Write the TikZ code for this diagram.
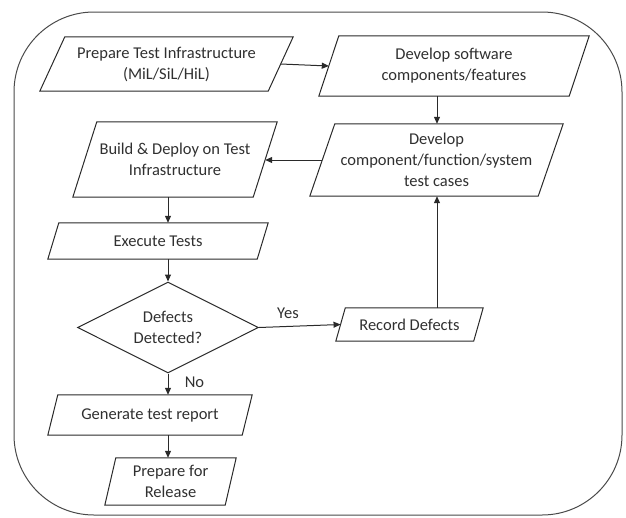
\documentclass[tikz,border=0pt]{standalone}
\usepackage{fontspec}
\setmainfont{Carlito}
\usetikzlibrary{shapes.geometric,arrows.meta,calc}
\definecolor{ink}{HTML}{2A2A2A}
\definecolor{txt}{HTML}{303030}
\newcommand\pgshape[2]{%
  \draw[shapeline] ($(#1.south west)+(-#2pt,0pt)$) -- ($(#1.north west)+(#2pt,0pt)$)
    -- ($(#1.north east)+(#2pt,0pt)$) -- ($(#1.south east)+(-#2pt,0pt)$) -- cycle;}
\begin{document}
\begin{tikzpicture}[x=1pt,y=-1pt,
  every node/.style={font=\fontsize{16.5}{21}\selectfont, text=txt},
  stepbox/.style={rectangle, inner sep=0pt, align=center},
  shapeline/.style={draw=ink, line width=1pt, line join=miter},
  decision/.style={diamond, aspect=2, inner sep=0pt, align=center, draw=ink, line width=1pt},
  arr/.style={draw=ink, line width=1pt, -{Triangle[length=7pt,width=6pt]}},
  frame/.style={draw=ink!85, line width=1pt, rounded corners=80pt}]
\useasboundingbox (0,0) rectangle (626,517);
\draw[frame] (14,12) rectangle (622,515);

\node[stepbox, minimum width=228pt, minimum height=54pt] (prep) at (166.5,64) {Prepare Test Infrastructure\\(MiL/SiL/HiL)};
\node[stepbox, minimum width=250pt, minimum height=60pt] (dev) at (454,66) {Develop software\\components/features};
\node[stepbox, minimum width=228pt, minimum height=72pt] (tc) at (436.5,160) {Develop\\component/function/system\\test cases};
\node[stepbox, minimum width=180pt, minimum height=75pt] (build) at (175,159.5) {Build \& Deploy on Test\\Infrastructure};
\node[stepbox, minimum width=209pt, minimum height=36pt] (exec) at (158,241) {Execute Tests};
\node[decision, minimum width=181pt, minimum height=91pt] (dia) at (168,327.5) {Defects\\Detected?};
\node[stepbox, minimum width=137.5pt, minimum height=33pt] (rec) at (409.5,324.5) {Record Defects};
\node[stepbox, minimum width=194pt, minimum height=40pt] (gen) at (150,415) {Generate test report};
\node[stepbox, minimum width=120pt, minimum height=47pt] (rel) at (170.5,481.5) {Prepare for\\Release};

\pgshape{prep}{12.5}
\pgshape{dev}{10}
\pgshape{tc}{12.5}
\pgshape{build}{12}
\pgshape{exec}{5.5}
\pgshape{rec}{4.75}
\pgshape{gen}{5}
\pgshape{rel}{5.5}

\coordinate (colR) at (437,0);
\coordinate (colL) at (168,0);

\draw[arr] (prep.east) -- (dev.west);
\draw[arr] (dev.south -| colR) -- (tc.north -| colR);
\draw[arr] (tc.west) -- (tc.west -| build.east);
\draw[arr] (build.south -| colL) -- (exec.north -| colL);
\draw[arr] (exec.south -| colL) -- (dia.north);
\draw[arr] (dia.east) -- (rec.west);
\draw[arr] (rec.north -| colR) -- (tc.south -| colR);
\draw[arr] (dia.south) -- (gen.north -| dia.south);
\draw[arr] (gen.south -| colL) -- (rel.north -| colL);

\node (yes) at (288,313) {Yes};
\node (no) at (194.5,382) {No};
\end{tikzpicture}
\end{document}
